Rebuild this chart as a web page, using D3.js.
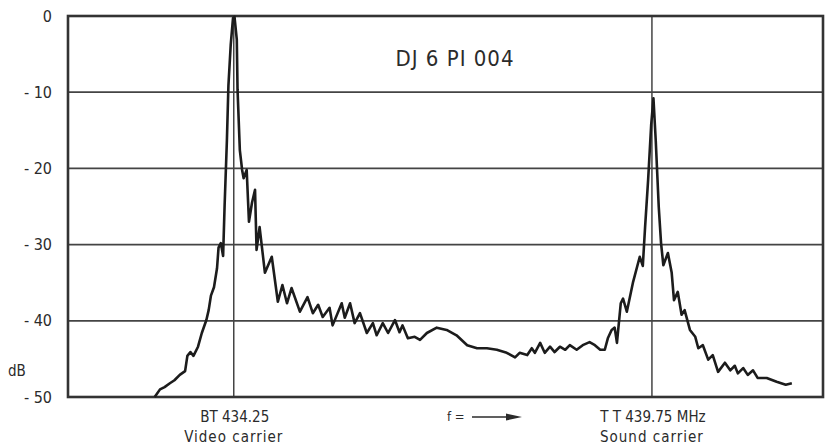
<!DOCTYPE html>
<html>
<head>
<meta charset="utf-8">
<script src="https://cdn.jsdelivr.net/npm/d3@7"></script>
<style>
  html, body { margin: 0; padding: 0; background: #fff; }
  #chart { width: 825px; height: 448px; }
  text { font-family: "Liberation Sans Narrow", "DejaVu Sans", sans-serif; font-stretch: condensed; fill: #2b2b2b; }
</style>
</head>
<body>
<div id="chart"></div>
<script>
// spectrum trace (MHz, dB)
var freq = [433.21, 433.28, 433.34, 433.41, 433.47, 433.54, 433.61, 433.64, 433.68, 433.72,
  433.78, 433.83, 433.89, 433.92, 433.95, 433.99, 434.03, 434.05, 434.08, 434.11,
  434.13, 434.16, 434.18, 434.21, 434.24, 434.26, 434.29, 434.30, 434.33, 434.36,
  434.38, 434.42, 434.45, 434.49, 434.53, 434.55, 434.59, 434.66, 434.75, 434.83,
  434.89, 434.95, 435.01, 435.12, 435.22, 435.29, 435.36, 435.42, 435.51, 435.55,
  435.67, 435.71, 435.78, 435.84, 435.91, 436.00, 436.08, 436.13, 436.21, 436.28,
  436.37, 436.43, 436.47, 436.54, 436.63, 436.70, 436.79, 436.92, 437.05, 437.18,
  437.32, 437.45, 437.58, 437.71, 437.84, 437.95, 438.01, 438.11, 438.17, 438.21,
  438.28, 438.34, 438.41, 438.47, 438.54, 438.61, 438.67, 438.76, 438.84, 438.93,
  439.00, 439.07, 439.13, 439.17, 439.22, 439.26, 439.29, 439.34, 439.37, 439.42,
  439.50, 439.59, 439.63, 439.66, 439.70, 439.74, 439.77, 439.80, 439.84, 439.87,
  439.90, 439.96, 440.01, 440.04, 440.09, 440.14, 440.18, 440.25, 440.32, 440.36,
  440.42, 440.49, 440.55, 440.62, 440.71, 440.78, 440.84, 440.88, 440.95, 441.01,
  441.08, 441.14, 441.26, 441.39, 441.51, 441.59];
var level = [-50.0, -49.0, -48.7, -48.2, -47.8, -47.1, -46.6, -44.6, -44.1, -44.6,
  -43.4, -41.6, -39.9, -38.6, -36.7, -35.6, -33.1, -30.4, -29.8, -31.5,
  -24.8, -16.3, -9.1, -3.8, -0.3, -0.1, -3.1, -9.7, -17.6, -20.2,
  -21.3, -20.2, -27.0, -24.5, -22.8, -30.7, -27.7, -33.7, -31.6, -37.5,
  -35.3, -37.7, -35.7, -38.8, -36.9, -39.0, -37.9, -39.5, -38.3, -40.6,
  -37.7, -39.6, -37.7, -40.3, -39.0, -41.6, -40.3, -41.9, -40.3, -41.6,
  -39.9, -41.5, -40.6, -42.3, -42.1, -42.5, -41.6, -40.9, -41.2, -41.9,
  -43.2, -43.6, -43.6, -43.8, -44.2, -44.8, -44.2, -44.5, -43.6, -44.2,
  -42.9, -44.2, -43.4, -44.1, -43.4, -43.8, -43.2, -43.8, -43.2, -42.8,
  -43.2, -43.8, -43.8, -42.3, -41.2, -40.9, -42.9, -37.7, -37.1, -38.8,
  -35.0, -31.6, -32.8, -27.7, -21.5, -14.3, -10.8, -16.3, -25.1, -29.8,
  -32.7, -31.1, -33.7, -37.3, -36.2, -39.2, -38.6, -41.2, -42.1, -43.6,
  -43.2, -45.1, -44.5, -46.7, -45.5, -46.5, -45.9, -46.9, -46.2, -47.1,
  -46.5, -47.5, -47.5, -48.0, -48.4, -48.2];

var yTicks = [0, -10, -20, -30, -40, -50];
var carriers = [434.25, 439.75];
var carrierLabels = ["BT 434.25", "T T 439.75 MHz"];
var carrierNames = ["Video carrier", "Sound carrier"];
var title = "DJ 6 PI 004";

var chartDiv = document.getElementById("chart");
var svg = d3.select(chartDiv).append("svg")
  .attr("width", 825)
  .attr("height", 448);

var plotLeft = 68, plotRight = 823, plotTop = 16, plotBottom = 397;

var x = d3.scaleLinear().domain([432.07, 442.0]).range([plotLeft, plotRight]);
var y = d3.scaleLinear().domain([-50, 0]).range([plotBottom, plotTop]);

// horizontal grid
svg.append("g")
  .selectAll("line")
  .data(yTicks)
  .enter()
  .append("line")
    .attr("x1", plotLeft)
    .attr("x2", plotRight)
    .attr("y1", function(d) { return y(d); })
    .attr("y2", function(d) { return y(d); })
    .attr("stroke", "#444")
    .attr("stroke-width", 1.8);

// carrier lines
svg.append("g")
  .selectAll("line")
  .data(carriers)
  .enter()
  .append("line")
    .attr("x1", function(d) { return x(d); })
    .attr("x2", function(d) { return x(d); })
    .attr("y1", plotTop)
    .attr("y2", plotBottom)
    .attr("stroke", "#444")
    .attr("stroke-width", 1.5);

// frame
svg.append("rect")
  .attr("x", plotLeft)
  .attr("y", plotTop)
  .attr("width", plotRight - plotLeft)
  .attr("height", plotBottom - plotTop)
  .attr("fill", "none")
  .attr("stroke", "#333")
  .attr("stroke-width", 2.6);

// y axis labels
var yAxis = d3.axisLeft(y)
  .tickValues(yTicks)
  .tickSize(0)
  .tickPadding(16)
  .tickFormat(function(d) { return d === 0 ? "0" : "- " + Math.abs(d); });

svg.append("g")
  .attr("transform", "translate(" + plotLeft + ",0)")
  .call(yAxis)
  .call(function(g) { g.select(".domain").remove(); })
  .selectAll("text")
    .style("font-size", "16px")
    .attr("fill", "#2b2b2b");

svg.append("text")
  .attr("x", 8)
  .attr("y", 376)
  .style("font-size", "15px")
  .text("dB");

// spectrum trace
var line = d3.line()
  .x(function(d, i) { return x(freq[i]); })
  .y(function(d) { return y(d); });

svg.append("path")
  .datum(level)
  .attr("d", line)
  .attr("fill", "none")
  .attr("stroke", "#1c1c1c")
  .attr("stroke-width", 2.6)
  .attr("stroke-linejoin", "round");

// title
svg.append("text")
  .attr("x", 455)
  .attr("y", 66)
  .attr("text-anchor", "middle")
  .style("font-size", "22px")
  .style("letter-spacing", "1px")
  .text(title);

// carrier labels
svg.selectAll(".clab")
  .data(carriers)
  .enter()
  .append("text")
    .attr("class", "clab")
    .attr("x", function(d) { return x(d) + 1; })
    .attr("y", 422)
    .attr("text-anchor", "middle")
    .style("font-size", "15px")
    .text(function(d, i) { return carrierLabels[i]; });

svg.selectAll(".cname")
  .data(carriers)
  .enter()
  .append("text")
    .attr("class", "cname")
    .attr("x", function(d) { return x(d); })
    .attr("y", 442)
    .attr("text-anchor", "middle")
    .style("font-size", "15px")
    .style("letter-spacing", "1px")
    .text(function(d, i) { return carrierNames[i]; });

// f = arrow
svg.append("text")
  .attr("x", 447)
  .attr("y", 421)
  .style("font-size", "13px")
  .text("f =");

svg.append("line")
  .attr("x1", 472)
  .attr("x2", 508)
  .attr("y1", 417)
  .attr("y2", 417)
  .attr("stroke", "#2b2b2b")
  .attr("stroke-width", 1.5);

svg.append("path")
  .attr("d", "M506,413.5 L522,417 L506,420.5 Z")
  .attr("fill", "#2b2b2b");
</script>
</body>
</html>
